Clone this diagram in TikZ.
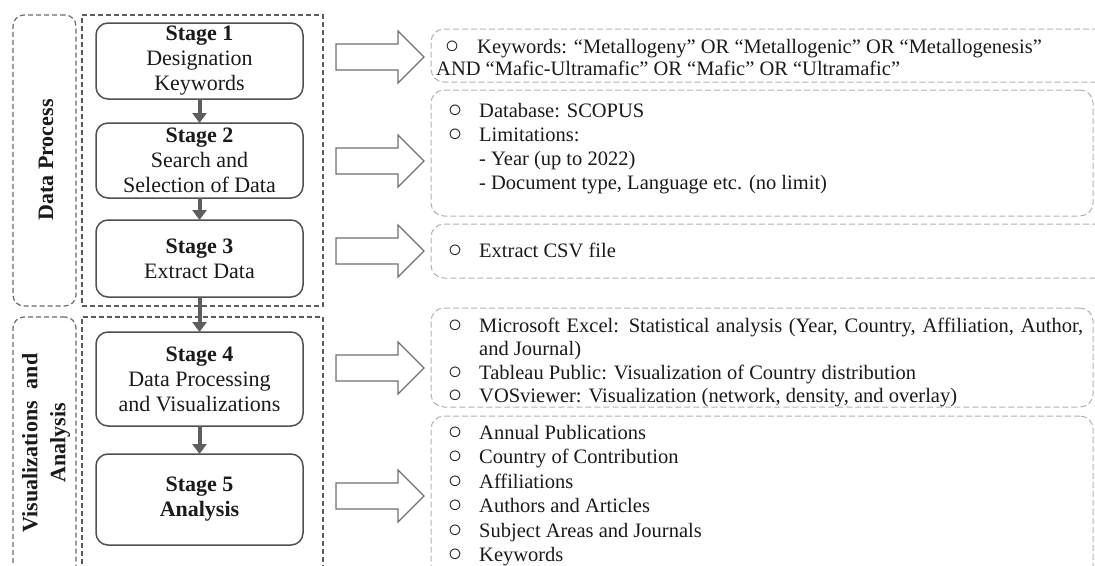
\documentclass[tikz,border=0pt]{standalone}
\usepackage{fontspec}
\setmainfont{Liberation Serif}
\usetikzlibrary{arrows.meta}
\definecolor{stageline}{HTML}{505050}
\definecolor{flowgray}{HTML}{5E5E5E}
\definecolor{groupline}{HTML}{5A5A5A}
\definecolor{labelline}{HTML}{6A6A6A}
\definecolor{infoline}{HTML}{B2B2B2}
\definecolor{arrowline}{HTML}{707070}
\definecolor{inktext}{HTML}{1A1A1A}
\begin{document}
\begin{tikzpicture}[x=1pt,y=-1pt,
  stagebox/.style={draw=stageline, line width=1.5pt, rounded corners=12pt,
    minimum width=207pt, inner sep=0pt, outer sep=0pt, align=center,
    text=inktext, font=\fontsize{22}{25}\selectfont},
  flow/.style={draw=flowgray, line width=4pt, -{Triangle[width=14pt,length=10pt]}},
  groupbox/.style={draw=groupline, line width=1.2pt, dash pattern=on 5pt off 3pt,
    anchor=north west, inner sep=0pt, outer sep=0pt},
  labelbox/.style={draw=labelline, line width=1.2pt, dash pattern=on 5pt off 3pt,
    rounded corners=11pt, anchor=north west, inner sep=0pt, outer sep=0pt},
  infobox/.style={draw=infoline, line width=1pt, dash pattern=on 6pt off 3pt,
    rounded corners=13pt, anchor=north west, inner sep=0pt, outer sep=0pt},
  barrow/.style={draw=arrowline, line width=1.2pt, fill=white, line join=miter},
  info/.style={anchor=base west, inner sep=0pt, text=inktext, font=\fontsize{20.5}{24}\selectfont},
  dot/.style={anchor=center, inner sep=0pt, text=inktext, font=\fontsize{24}{24}\selectfont},
  side/.style={rotate=90, align=center, inner sep=0pt, text=inktext, font=\bfseries\fontsize{22}{28}\selectfont}
]
\useasboundingbox (0,0) rectangle (1095,565);

% ---- left grouping frames ----
\node[labelbox, minimum width=63pt, minimum height=291pt] (lab1) at (13,15) {};
\node[side] (lab1t) at (46,160) {Data Process};
\node[groupbox, minimum width=241pt, minimum height=291pt] (grp1) at (82,15) {};

\node[labelbox, minimum width=63pt, minimum height=300pt] (lab2) at (13,317) {};
\node[side] (lab2t) at (46,443) {Visualizations\hspace{0.55em}and\\Analysis};
\node[groupbox, minimum width=241pt, minimum height=300pt] (grp2) at (82,317) {};

% ---- stages ----
\node[stagebox, minimum height=76pt] (s1) at (199.5,61) {\textbf{Stage 1}\\Designation\\Keywords};
\node[stagebox, minimum height=75pt] (s2) at (199.5,160.5) {\textbf{Stage 2}\\Search and\\Selection of Data};
\node[stagebox, minimum height=77pt] (s3) at (199.5,258.5) {\textbf{Stage 3}\\Extract Data};
\node[stagebox, minimum height=94pt] (s4) at (199.5,379) {\textbf{Stage 4}\\Data Processing\\and Visualizations};
\node[stagebox, minimum height=91pt] (s5) at (199.5,499.5) {\textbf{Stage 5}\\\textbf{Analysis}};

\draw[flow] (s1.south) -- (s2.north);
\draw[flow] (s2.south) -- (s3.north);
\draw[flow] (s3.south) -- (s4.north);
\draw[flow] (s4.south) -- (s5.north);

% ---- block arrows ----
\foreach \n/\y in {1/57, 2/161, 3/251, 4/368, 5/496}{
  \coordinate (ba\n) at (336,\y);
  \draw[barrow] (ba\n) ++(0,-13) -- ++(62,0) -- ++(0,-13) -- ++(26,26)
    -- ++(-26,26) -- ++(0,-13) -- ++(-62,0) -- cycle;
}

% ---- detail boxes ----
\node[infobox, minimum width=680pt, minimum height=53pt] (d1) at (431,29) {};
\node[infobox, minimum width=662pt, minimum height=126pt] (d2) at (431,90) {};
\node[infobox, minimum width=680pt, minimum height=54pt] (d3) at (431,224) {};
\node[infobox, minimum width=662pt, minimum height=99pt] (d4) at (431,308) {};
\node[infobox, minimum width=662pt, minimum height=190pt] (d5) at (431,416) {};

% box 1
\node[dot] (d1b1) at (452,47) {○};
\node[info] (d1l1) at (477,53) {Keywords: “Metallogeny” OR “Metallogenic” OR “Metallogenesis”};
\node[info] (d1l2) at (436,75) {AND “Mafic-Ultramafic” OR “Mafic” OR “Ultramafic”};

% box 2
\node[dot] (d2b1) at (455,111) {○};
\node[info] (d2l1) at (479,117) {Database: SCOPUS};
\node[dot] (d2b2) at (455,135) {○};
\node[info] (d2l2) at (479,141) {Limitations:};
\node[info] (d2l3) at (479,165) {- Year (up to 2022)};
\node[info] (d2l4) at (479,189) {- Document type, Language etc. (no limit)};

% box 3
\node[dot] (d3b1) at (455,251) {○};
\node[info] (d3l1) at (479,257) {Extract CSV file};

% box 4
\node[dot] (d4b1) at (455,326) {○};
\node[info] (d4l1) at (479,332) {\makebox[604pt][s]{Microsoft Excel: Statistical analysis (Year, Country, Affiliation, Author,}};
\node[info] (d4l2) at (479,355) {and Journal)};
\node[dot] (d4b2) at (455,373) {○};
\node[info] (d4l3) at (479,379) {Tableau Public: Visualization of Country distribution};
\node[dot] (d4b3) at (455,396) {○};
\node[info] (d4l4) at (479,402) {VOSviewer: Visualization (network, density, and overlay)};

% box 5
\foreach \k/\y/\t in {1/439/Annual Publications, 2/463.5/Country of Contribution,
    3/488/Affiliations, 4/512.5/Authors and Articles,
    5/537/Subject Areas and Journals, 6/561.5/Keywords}{
  \node[dot] (d5b\k) at (455,\y-6) {○};
  \node[info] (d5l\k) at (479,\y) {\t};
}
\end{tikzpicture}
\end{document}
